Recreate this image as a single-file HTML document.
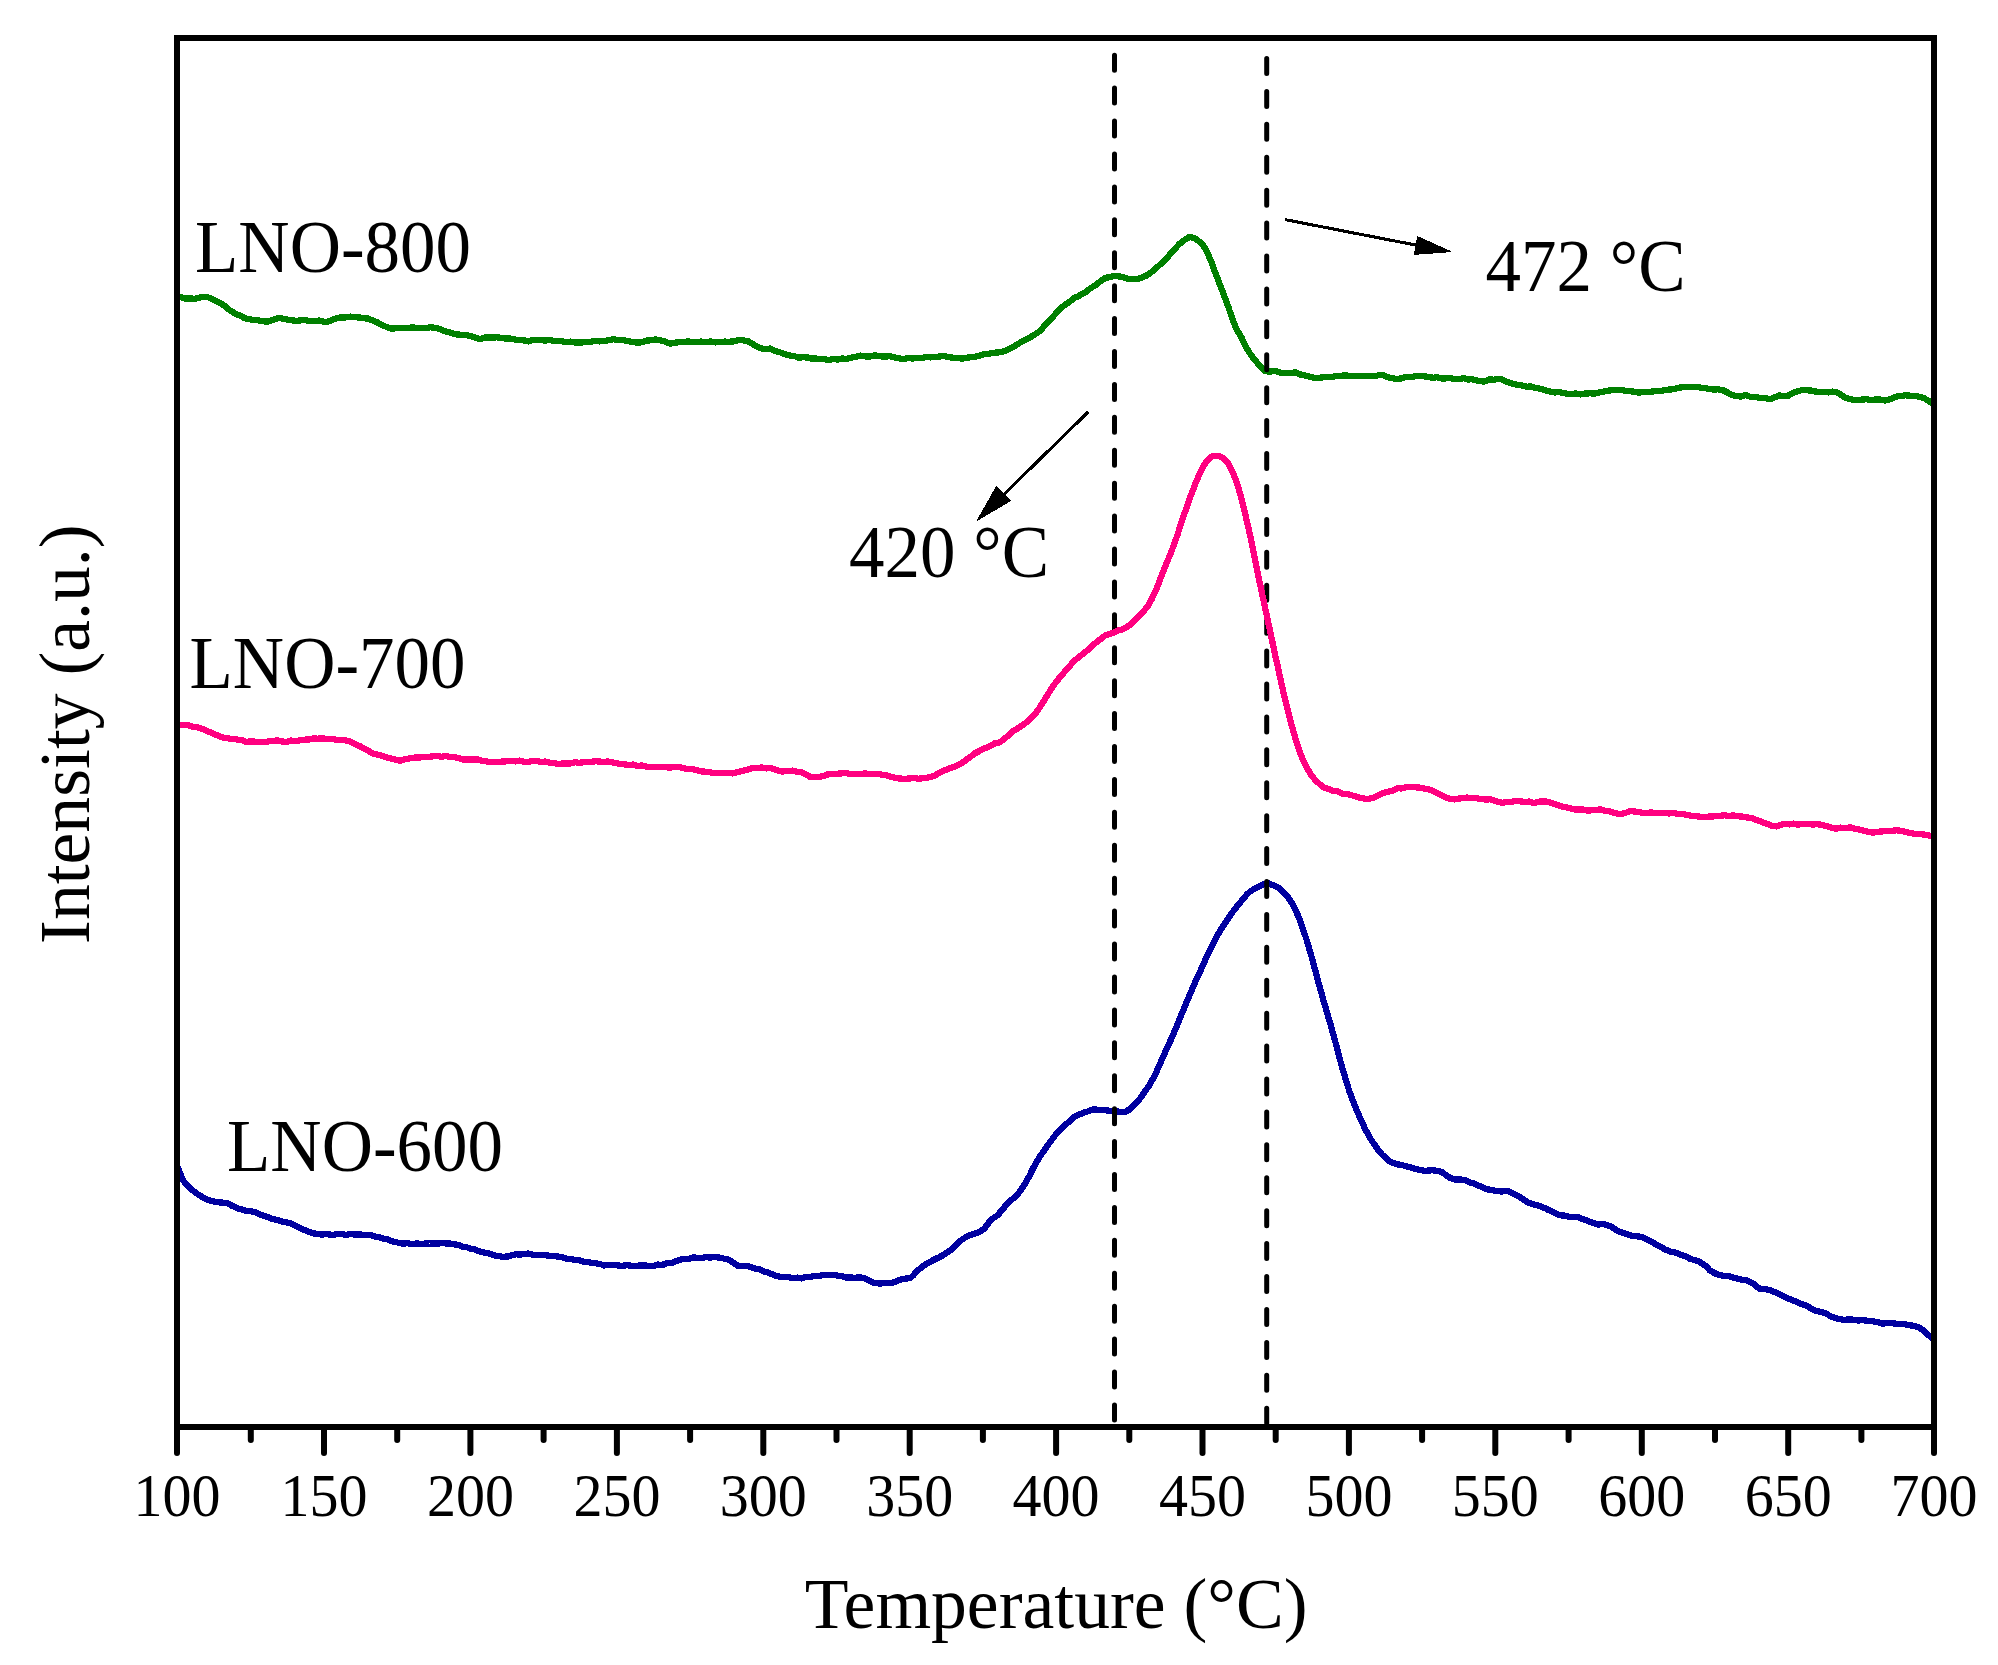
<!DOCTYPE html>
<html lang="en">
<head>
<meta charset="utf-8">
<title>TPR profiles</title>
<style>
html,body{margin:0;padding:0;background:#fff;}
body{width:1998px;height:1665px;overflow:hidden;}
svg{display:block;}
text{font-family:"Liberation Serif","Times New Roman",serif;fill:#000;}
.crv{shape-rendering:crispEdges;fill:none;stroke-width:6.3;stroke-linejoin:round;stroke-linecap:butt;}
</style>
</head>
<body>
<svg width="1998" height="1665" viewBox="0 0 1998 1665">
<rect x="0" y="0" width="1998" height="1665" fill="#fff"/>
<defs><clipPath id="plot"><rect x="177.0" y="38.0" width="1757.0" height="1389.0"/></clipPath></defs>
<g clip-path="url(#plot)">
<path class="crv" stroke="#0000a0" d="M177.0,1166.0 L178.8,1170.1 L180.1,1173.4 L181.7,1177.4 L183.8,1181.2 L186.3,1184.6 L189.2,1186.9 L192.5,1190.2 L196.5,1193.3 L200.9,1196.2 L205.0,1198.6 L210.0,1200.7 L215.0,1201.8 L219.1,1202.4 L223.5,1202.7 L227.6,1203.4 L232.3,1205.9 L237.6,1208.4 L241.6,1209.4 L246.2,1210.9 L250.9,1211.1 L255.1,1212.3 L259.3,1214.3 L262.9,1215.4 L267.6,1217.1 L271.6,1218.7 L276.4,1219.8 L281.3,1221.4 L286.1,1222.2 L290.1,1223.3 L294.9,1225.4 L298.6,1227.4 L302.6,1229.2 L307.4,1231.1 L312.5,1233.3 L317.6,1233.9 L322.2,1234.6 L326.7,1234.0 L332.7,1235.1 L336.6,1234.0 L341.1,1234.1 L346.0,1234.8 L350.9,1234.1 L355.8,1234.6 L360.2,1234.5 L365.1,1235.1 L369.8,1235.0 L374.3,1236.3 L378.6,1237.2 L382.7,1238.5 L387.2,1239.3 L391.3,1241.1 L395.4,1241.9 L400.2,1243.3 L403.9,1243.5 L408.0,1243.2 L412.3,1244.2 L416.7,1243.4 L421.0,1244.1 L425.3,1243.5 L429.5,1243.6 L433.8,1243.6 L438.1,1243.6 L442.3,1242.9 L446.4,1243.5 L450.3,1243.6 L454.6,1244.4 L458.5,1244.9 L462.4,1246.8 L466.2,1247.0 L470.3,1248.6 L474.8,1249.4 L479.5,1251.4 L484.2,1252.5 L488.7,1253.2 L492.8,1255.0 L498.4,1256.2 L503.3,1256.8 L507.8,1256.5 L511.8,1255.4 L515.6,1254.3 L520.4,1254.5 L524.2,1253.9 L528.4,1253.5 L533.1,1254.8 L537.9,1254.8 L542.9,1255.2 L547.2,1255.4 L551.8,1256.0 L556.5,1256.4 L561.2,1256.9 L565.9,1258.6 L570.4,1258.9 L574.8,1259.8 L579.2,1260.4 L583.5,1261.8 L587.7,1261.9 L591.7,1263.1 L595.4,1263.3 L600.1,1264.0 L604.0,1265.4 L608.1,1265.2 L613.0,1265.0 L617.1,1265.3 L621.8,1265.9 L626.8,1265.2 L631.7,1265.7 L636.4,1265.9 L640.5,1265.4 L645.7,1265.6 L650.2,1265.9 L654.2,1265.9 L658.0,1264.6 L662.3,1265.1 L666.0,1263.3 L670.0,1263.3 L674.4,1262.0 L679.1,1259.8 L685.0,1258.8 L688.7,1258.8 L692.9,1257.4 L697.3,1257.8 L701.8,1257.8 L706.1,1257.2 L710.0,1257.5 L715.1,1257.1 L719.7,1257.6 L723.9,1258.6 L727.6,1259.4 L733.1,1262.4 L737.6,1265.6 L742.4,1266.0 L747.6,1266.2 L751.3,1267.0 L755.3,1268.7 L760.1,1269.6 L763.5,1271.4 L767.3,1272.4 L771.4,1274.0 L775.7,1275.8 L780.1,1276.7 L784.1,1277.1 L788.6,1277.2 L793.2,1278.1 L797.7,1277.6 L801.7,1278.4 L805.1,1277.1 L810.6,1276.9 L815.2,1275.9 L819.1,1276.0 L823.5,1274.7 L828.2,1275.1 L832.7,1274.9 L837.2,1275.5 L841.8,1276.2 L846.2,1277.6 L850.2,1277.5 L854.8,1277.8 L858.9,1277.4 L862.7,1277.7 L868.0,1279.9 L872.7,1282.6 L880.2,1283.7 L884.2,1282.7 L888.7,1283.3 L892.7,1282.7 L896.6,1281.2 L900.2,1279.6 L905.1,1278.7 L910.3,1278.1 L913.5,1275.1 L916.6,1271.7 L920.3,1268.3 L923.8,1265.6 L927.6,1263.0 L931.6,1261.0 L935.3,1259.1 L939.6,1257.0 L943.5,1255.0 L947.8,1251.9 L950.7,1250.1 L953.7,1247.1 L956.9,1244.2 L959.9,1241.1 L962.8,1239.2 L967.3,1236.2 L971.5,1234.8 L975.3,1233.5 L980.1,1231.4 L984.1,1228.8 L987.3,1224.6 L990.3,1220.6 L993.8,1217.8 L997.8,1215.2 L1000.9,1211.3 L1004.4,1207.2 L1007.8,1202.8 L1011.2,1199.9 L1014.5,1197.6 L1017.9,1193.9 L1020.5,1190.7 L1023.1,1186.8 L1025.6,1182.8 L1027.9,1178.7 L1029.9,1175.1 L1031.7,1171.1 L1033.4,1167.7 L1035.4,1164.0 L1037.7,1160.2 L1040.2,1156.0 L1042.8,1152.4 L1045.4,1148.7 L1047.9,1145.0 L1050.4,1141.7 L1052.9,1138.4 L1055.4,1135.0 L1058.7,1131.6 L1062.1,1128.3 L1065.4,1124.8 L1068.6,1122.0 L1071.9,1119.1 L1075.4,1116.1 L1079.5,1114.3 L1083.8,1112.7 L1087.9,1111.4 L1092.7,1109.5 L1097.9,1109.7 L1101.7,1109.8 L1106.1,1110.4 L1110.5,1110.8 L1114.4,1110.6 L1120.1,1111.9 L1125.0,1111.8 L1129.9,1109.3 L1134.6,1104.8 L1137.8,1101.2 L1141.0,1097.3 L1144.2,1092.5 L1146.6,1089.1 L1149.0,1085.6 L1151.4,1081.5 L1153.8,1077.1 L1155.7,1073.3 L1157.6,1069.2 L1159.6,1064.6 L1161.5,1060.3 L1163.4,1055.9 L1165.3,1051.9 L1167.2,1047.8 L1169.2,1043.4 L1171.1,1039.2 L1173.0,1034.9 L1174.6,1031.1 L1176.2,1027.3 L1177.8,1023.4 L1179.4,1019.6 L1181.0,1015.5 L1182.6,1011.9 L1184.2,1008.0 L1185.8,1004.0 L1187.4,1000.0 L1189.1,996.4 L1190.7,992.4 L1192.3,988.7 L1194.2,984.3 L1196.1,980.0 L1198.1,976.1 L1200.0,971.7 L1201.9,967.5 L1203.8,963.4 L1205.7,959.0 L1207.7,954.6 L1209.6,950.5 L1211.5,946.6 L1213.9,941.8 L1216.3,937.5 L1218.7,933.1 L1221.1,929.3 L1223.5,925.5 L1225.9,921.9 L1228.3,918.3 L1230.7,914.7 L1233.9,910.2 L1237.1,906.3 L1240.3,902.4 L1243.5,898.3 L1246.7,894.7 L1249.9,891.7 L1254.7,888.5 L1259.5,886.3 L1264.3,883.9 L1269.1,883.6 L1273.9,885.5 L1278.7,888.0 L1282.0,890.7 L1285.2,894.1 L1288.3,897.7 L1291.0,901.6 L1293.5,905.9 L1296.0,910.9 L1297.5,914.5 L1299.1,918.2 L1300.6,922.4 L1302.2,926.7 L1303.7,931.2 L1305.0,934.9 L1306.3,938.9 L1307.6,943.0 L1308.8,947.2 L1310.1,951.7 L1311.4,956.1 L1312.5,960.0 L1313.6,964.1 L1314.7,968.3 L1315.8,972.5 L1316.9,976.8 L1318.0,980.9 L1319.1,984.9 L1320.4,989.4 L1321.7,994.1 L1322.9,998.6 L1324.2,1002.8 L1325.5,1007.4 L1326.8,1011.9 L1328.1,1016.4 L1329.4,1020.6 L1330.7,1025.0 L1331.9,1029.7 L1333.2,1034.0 L1334.5,1038.6 L1335.6,1042.8 L1336.7,1046.9 L1337.8,1051.2 L1338.9,1055.3 L1340.0,1059.7 L1341.1,1063.6 L1342.2,1067.7 L1343.5,1072.0 L1344.8,1076.4 L1346.1,1080.6 L1347.3,1084.8 L1348.6,1088.8 L1349.9,1092.7 L1351.4,1096.8 L1352.9,1100.7 L1354.5,1104.7 L1356.0,1108.3 L1357.5,1111.9 L1359.4,1116.3 L1361.3,1120.8 L1363.3,1125.0 L1365.2,1129.0 L1367.7,1133.7 L1370.2,1138.2 L1372.9,1142.3 L1376.0,1146.8 L1379.2,1151.4 L1382.5,1155.0 L1385.7,1157.9 L1388.9,1160.8 L1392.1,1162.5 L1396.8,1164.3 L1401.7,1165.0 L1407.4,1166.6 L1413.3,1168.2 L1419.3,1169.8 L1424.8,1170.9 L1432.5,1170.2 L1437.3,1171.0 L1442.1,1172.0 L1446.2,1175.3 L1450.4,1178.1 L1455.3,1179.5 L1460.8,1179.5 L1464.9,1180.0 L1469.4,1182.4 L1473.8,1183.4 L1478.3,1185.5 L1482.7,1187.3 L1486.9,1189.3 L1492.3,1190.0 L1497.3,1191.3 L1502.3,1191.4 L1507.7,1191.0 L1512.0,1192.8 L1516.7,1195.2 L1520.7,1197.6 L1524.6,1200.2 L1528.5,1202.8 L1532.3,1204.0 L1536.6,1205.0 L1541.5,1206.7 L1544.8,1208.1 L1548.4,1210.0 L1552.2,1211.6 L1556.0,1213.3 L1559.7,1215.3 L1564.3,1215.5 L1569.0,1216.9 L1573.5,1216.7 L1577.9,1217.1 L1582.1,1219.1 L1586.1,1220.0 L1589.9,1222.1 L1593.6,1222.9 L1598.2,1224.5 L1602.6,1224.1 L1606.6,1224.9 L1612.0,1227.1 L1617.0,1230.6 L1621.7,1232.5 L1627.4,1234.4 L1631.6,1235.7 L1636.5,1236.1 L1641.4,1237.1 L1645.6,1238.6 L1649.6,1240.6 L1652.8,1242.4 L1656.0,1244.7 L1661.2,1247.3 L1666.4,1250.1 L1671.5,1251.9 L1676.9,1252.8 L1681.0,1255.0 L1685.5,1256.1 L1689.9,1258.8 L1694.3,1260.0 L1698.8,1261.5 L1702.9,1263.8 L1706.4,1266.6 L1709.5,1270.1 L1713.3,1272.4 L1716.7,1274.1 L1720.5,1275.0 L1724.5,1276.1 L1728.9,1276.1 L1732.9,1277.5 L1737.3,1278.7 L1741.9,1279.6 L1746.1,1280.3 L1749.7,1282.0 L1753.9,1284.1 L1757.0,1286.7 L1760.1,1289.2 L1765.2,1289.2 L1770.6,1290.2 L1774.7,1292.1 L1779.2,1294.2 L1783.6,1296.2 L1788.0,1298.5 L1792.5,1300.1 L1796.6,1302.0 L1802.1,1304.2 L1807.0,1306.0 L1810.9,1308.3 L1814.8,1310.4 L1819.8,1311.8 L1825.2,1313.0 L1830.2,1316.0 L1835.6,1318.2 L1839.4,1319.0 L1843.4,1319.7 L1848.6,1319.6 L1852.8,1319.6 L1857.9,1320.5 L1863.1,1320.1 L1868.1,1321.0 L1872.1,1321.2 L1877.8,1322.2 L1882.5,1323.8 L1887.5,1322.9 L1893.1,1323.3 L1898.1,1324.0 L1903.6,1324.1 L1908.5,1324.9 L1913.9,1326.0 L1918.9,1327.5 L1922.5,1329.9 L1925.4,1332.5 L1930.6,1336.8 L1934.0,1339.9"/>
<path class="crv" stroke="#008000" d="M177.0,296.3 L180.0,296.9 L184.9,298.5 L190.0,298.6 L195.0,298.7 L202.5,296.8 L207.5,297.1 L210.9,298.5 L215.0,300.3 L220.0,302.9 L225.0,306.1 L228.6,309.4 L232.6,312.0 L236.4,314.3 L240.7,315.9 L245.0,318.4 L249.3,319.0 L253.6,320.0 L257.6,320.2 L262.7,321.2 L267.6,321.7 L273.0,319.9 L278.9,318.0 L283.2,318.8 L287.7,319.7 L292.6,320.4 L296.7,320.8 L301.1,320.3 L305.5,320.3 L310.0,320.9 L314.6,321.2 L319.5,320.5 L324.0,321.7 L327.7,321.7 L335.2,318.7 L339.6,317.5 L344.7,317.5 L350.2,316.6 L354.6,317.3 L359.3,317.4 L363.8,318.3 L367.7,318.5 L373.2,320.5 L377.7,322.6 L382.4,325.4 L387.7,327.3 L391.9,328.8 L396.6,328.0 L402.7,328.0 L406.8,327.9 L411.6,327.5 L416.8,327.8 L421.9,328.1 L426.6,327.9 L430.3,327.2 L436.1,327.9 L440.3,329.4 L444.9,331.2 L450.1,332.5 L455.3,334.3 L460.5,334.7 L465.7,335.1 L470.3,335.9 L475.9,337.9 L480.3,339.1 L485.3,337.3 L488.4,337.5 L492.5,337.6 L496.9,337.3 L501.4,337.9 L505.3,338.5 L510.3,338.6 L514.8,339.5 L520.4,340.2 L524.1,340.4 L528.2,341.4 L532.6,340.0 L537.1,340.1 L541.4,340.1 L545.4,340.6 L549.8,340.0 L554.0,340.9 L558.0,340.7 L561.8,341.1 L565.4,342.0 L570.8,341.6 L575.6,342.6 L580.4,342.5 L585.0,342.2 L589.7,342.1 L595.4,340.7 L599.2,341.4 L603.6,341.0 L608.3,340.3 L612.9,339.2 L617.1,339.9 L620.5,339.7 L626.6,340.9 L630.5,341.6 L638.0,342.7 L641.9,342.2 L646.7,340.6 L651.5,340.2 L655.5,339.5 L660.6,340.5 L664.2,341.0 L670.0,343.7 L673.8,342.9 L678.5,342.2 L685.0,341.7 L688.5,341.5 L692.6,342.1 L697.1,341.8 L701.7,341.6 L706.4,342.0 L710.8,341.4 L715.0,342.4 L719.7,342.2 L724.3,341.6 L728.9,341.8 L733.1,341.4 L736.9,340.5 L740.0,340.0 L747.6,341.0 L751.5,343.2 L755.9,345.9 L760.0,348.0 L764.8,349.2 L770.0,348.6 L774.8,350.7 L780.2,352.4 L785.0,354.2 L789.7,355.5 L795.0,356.3 L798.5,357.7 L802.8,357.3 L807.2,357.4 L811.5,358.6 L815.0,358.6 L819.7,358.8 L825.0,359.3 L828.5,360.2 L832.9,359.1 L837.6,359.5 L842.4,358.4 L846.7,359.1 L850.0,357.9 L857.7,356.4 L860.7,355.6 L864.6,356.3 L869.1,356.7 L873.8,355.5 L878.6,355.8 L883.1,356.6 L887.0,356.4 L890.2,356.2 L895.4,357.7 L900.2,358.5 L903.6,359.1 L907.7,358.1 L912.4,358.5 L917.2,358.1 L922.0,357.9 L926.5,357.1 L930.3,357.4 L935.7,357.1 L940.3,356.4 L944.2,355.7 L947.8,357.0 L953.0,357.7 L957.8,358.0 L962.6,358.6 L968.0,357.5 L972.8,357.1 L977.5,356.3 L982.8,354.5 L986.3,353.9 L990.4,353.5 L994.9,352.7 L999.1,352.3 L1002.8,351.7 L1007.6,349.8 L1011.7,347.5 L1015.4,345.6 L1020.4,342.4 L1025.4,339.8 L1029.5,337.8 L1033.8,335.0 L1037.9,332.6 L1041.3,329.5 L1044.5,325.7 L1047.9,321.9 L1050.9,319.1 L1054.2,315.3 L1057.4,312.0 L1060.4,308.5 L1063.7,305.8 L1066.8,303.6 L1070.4,301.1 L1073.9,298.2 L1077.9,296.4 L1081.9,294.1 L1085.4,292.3 L1089.3,289.2 L1092.7,286.9 L1095.4,285.2 L1100.0,281.6 L1105.4,277.8 L1109.6,277.2 L1114.0,275.9 L1121.6,276.8 L1126.6,278.5 L1131.4,279.2 L1137.8,278.8 L1142.6,277.3 L1147.6,275.0 L1152.0,271.6 L1156.2,268.2 L1160.5,264.1 L1164.9,260.0 L1167.8,257.0 L1170.6,253.6 L1173.5,250.5 L1176.4,247.2 L1179.4,244.0 L1182.2,241.7 L1186.2,238.8 L1189.7,236.9 L1195.1,238.5 L1198.8,241.2 L1202.7,244.7 L1205.0,248.4 L1207.2,252.6 L1209.2,256.8 L1211.1,261.2 L1212.8,266.0 L1214.6,270.8 L1216.4,275.6 L1218.2,280.2 L1220.0,284.8 L1221.8,289.6 L1223.6,294.3 L1225.4,298.8 L1226.8,302.6 L1228.2,306.5 L1229.5,310.5 L1230.8,314.1 L1232.2,318.1 L1233.5,322.0 L1235.1,325.8 L1237.1,329.9 L1239.4,334.1 L1241.6,337.6 L1243.4,341.4 L1245.2,345.1 L1247.0,348.6 L1250.2,353.8 L1253.5,358.4 L1256.8,362.3 L1260.0,365.8 L1265.4,371.2 L1269.9,371.6 L1275.1,370.9 L1280.8,372.9 L1285.9,373.2 L1291.4,372.8 L1295.4,372.4 L1300.0,374.4 L1304.7,375.3 L1310.2,377.0 L1314.7,377.8 L1319.7,377.7 L1325.2,377.1 L1328.8,376.9 L1332.6,376.7 L1336.6,375.9 L1340.8,375.8 L1345.2,375.4 L1349.2,375.8 L1353.6,375.8 L1358.2,376.2 L1362.6,376.0 L1366.7,375.7 L1370.2,376.2 L1375.4,376.2 L1379.3,374.9 L1382.8,375.0 L1386.9,377.0 L1392.8,378.3 L1396.4,378.9 L1400.8,378.5 L1405.6,377.2 L1410.7,377.3 L1415.7,376.2 L1420.3,375.9 L1424.6,376.4 L1428.9,377.0 L1433.1,377.8 L1437.2,377.2 L1441.3,378.4 L1445.3,378.4 L1450.1,378.0 L1455.0,379.3 L1459.6,378.9 L1464.0,378.2 L1467.8,379.4 L1472.6,379.3 L1476.2,380.4 L1480.4,381.2 L1484.5,381.5 L1489.2,379.5 L1493.8,379.7 L1497.9,379.0 L1502.0,379.4 L1505.5,381.5 L1510.4,383.1 L1513.9,383.9 L1518.0,384.9 L1522.5,385.6 L1527.0,386.7 L1531.4,386.5 L1535.4,388.0 L1540.6,388.7 L1545.3,390.2 L1549.9,391.5 L1554.7,392.5 L1558.8,392.1 L1563.1,392.8 L1567.4,393.8 L1571.6,394.1 L1575.7,393.4 L1580.6,394.4 L1585.5,393.5 L1590.2,393.3 L1594.7,393.5 L1599.0,392.6 L1603.1,391.7 L1607.2,390.8 L1611.5,390.3 L1616.2,389.8 L1621.2,389.9 L1626.1,391.1 L1630.4,391.2 L1634.8,391.9 L1638.4,392.7 L1643.0,392.1 L1646.6,392.0 L1650.5,391.7 L1654.7,391.3 L1659.3,391.3 L1664.0,390.2 L1668.3,389.6 L1673.1,389.3 L1678.0,387.9 L1682.8,387.1 L1687.4,387.3 L1691.4,387.2 L1696.4,386.7 L1700.6,387.7 L1704.4,387.8 L1708.2,388.9 L1713.3,389.5 L1718.2,389.3 L1722.9,390.2 L1727.3,392.4 L1731.5,394.7 L1735.5,395.9 L1740.6,396.5 L1746.0,395.1 L1750.7,397.0 L1755.8,397.1 L1760.7,397.9 L1765.3,398.1 L1769.6,399.2 L1773.3,398.0 L1779.6,395.4 L1783.3,396.2 L1788.1,395.8 L1792.5,393.2 L1797.5,391.3 L1802.8,389.9 L1806.9,390.2 L1811.1,390.6 L1815.4,391.6 L1819.6,391.8 L1824.0,391.9 L1828.5,392.4 L1832.8,391.6 L1836.4,392.2 L1841.2,394.9 L1844.8,397.5 L1852.2,399.7 L1859.5,400.1 L1862.8,399.4 L1867.1,399.3 L1871.8,400.1 L1876.6,399.3 L1881.1,399.7 L1884.8,400.5 L1889.9,399.4 L1893.7,397.8 L1897.4,396.2 L1901.5,396.0 L1905.6,395.3 L1910.0,395.7 L1915.1,396.0 L1920.4,397.0 L1924.7,398.5 L1930.6,402.1 L1934.0,404.8"/>
</g>
<g stroke="#000" stroke-width="5" stroke-linecap="round" stroke-dasharray="15 17.92" fill="none">
<line x1="1114.5" y1="55.2" x2="1114.5" y2="1420"/>
<line x1="1266.7" y1="58.5" x2="1266.7" y2="1424"/>
</g>
<g clip-path="url(#plot)">
<path class="crv" stroke="#ff0080" d="M177.0,725.3 L178.8,724.8 L182.5,725.1 L187.6,725.2 L193.0,726.7 L197.5,727.2 L202.9,729.0 L207.5,731.4 L211.3,732.6 L215.4,734.5 L220.0,736.4 L224.2,737.8 L228.8,738.5 L233.4,739.0 L237.6,739.6 L241.8,740.0 L245.5,741.9 L250.0,741.4 L253.4,741.5 L257.2,742.2 L261.3,742.1 L265.6,741.9 L270.0,741.2 L273.9,740.7 L278.1,740.5 L282.3,741.6 L286.7,741.8 L290.9,740.6 L295.0,741.3 L299.7,740.3 L304.2,739.7 L308.7,739.5 L313.1,738.4 L317.6,738.7 L322.2,738.3 L327.0,739.1 L331.7,738.9 L336.2,739.7 L340.2,740.1 L345.9,740.4 L350.7,741.8 L355.2,744.2 L359.6,746.0 L363.6,748.2 L367.7,750.4 L371.6,753.0 L375.5,754.2 L380.2,755.1 L383.8,756.6 L387.9,757.7 L392.2,758.7 L396.4,760.1 L400.2,760.6 L405.5,759.2 L410.2,758.2 L415.2,757.5 L419.4,757.6 L423.8,756.9 L428.3,756.8 L432.8,756.4 L437.1,755.9 L441.4,756.8 L445.8,756.0 L450.3,757.3 L454.3,757.1 L458.7,758.2 L463.1,759.5 L467.1,759.6 L470.3,759.4 L477.8,759.5 L481.4,760.7 L485.6,761.3 L490.3,762.3 L494.0,761.9 L497.8,762.2 L502.2,761.5 L507.8,761.3 L511.3,760.9 L515.2,761.4 L519.6,760.6 L524.1,761.7 L528.6,761.7 L533.0,761.1 L536.9,761.1 L540.4,761.8 L545.8,761.6 L550.1,763.0 L553.9,763.1 L557.9,764.1 L561.9,763.5 L565.7,763.5 L570.0,763.5 L575.4,762.0 L578.8,762.9 L582.7,762.4 L586.9,762.0 L591.2,761.8 L595.7,761.3 L600.0,761.5 L604.2,762.1 L608.0,761.4 L612.6,762.5 L616.8,763.3 L620.9,763.9 L624.8,764.4 L628.8,764.9 L633.0,764.6 L637.4,766.0 L641.9,765.4 L646.5,766.7 L651.1,767.1 L655.6,767.1 L660.0,767.2 L664.3,767.0 L668.7,767.5 L672.9,767.3 L677.1,767.2 L681.1,767.4 L685.0,768.6 L689.2,769.3 L693.0,769.3 L696.7,770.1 L700.6,771.3 L705.0,771.7 L709.2,772.2 L713.9,773.1 L718.8,773.2 L723.7,773.3 L728.4,773.0 L732.6,773.4 L737.1,772.3 L741.3,771.3 L745.1,770.1 L748.9,769.4 L752.6,767.9 L757.3,768.1 L761.8,767.4 L766.1,768.4 L770.1,768.1 L774.5,769.2 L778.4,770.8 L782.6,771.6 L787.5,770.9 L792.7,770.6 L797.6,772.0 L802.1,772.4 L806.3,774.7 L810.2,776.9 L815.2,776.7 L820.2,776.8 L823.6,776.0 L827.3,774.5 L832.7,773.9 L836.5,773.8 L840.9,773.4 L845.8,773.1 L850.8,774.2 L855.7,774.3 L860.2,774.0 L865.2,773.4 L870.0,774.0 L874.7,774.1 L878.9,774.0 L882.7,774.8 L887.5,775.5 L891.2,777.1 L895.2,777.7 L899.9,778.6 L904.8,778.8 L910.3,778.5 L914.1,777.8 L918.3,778.8 L922.6,778.3 L926.7,777.7 L930.3,777.1 L934.8,775.8 L938.5,773.0 L942.8,771.0 L946.9,769.5 L951.4,767.7 L956.0,766.3 L960.3,763.9 L964.2,761.4 L968.0,758.4 L971.6,756.0 L975.3,753.1 L979.1,751.2 L982.9,749.0 L986.7,747.7 L990.3,746.0 L994.8,743.3 L999.0,742.5 L1002.9,740.2 L1006.4,737.1 L1009.7,734.2 L1012.9,731.1 L1017.9,728.3 L1022.9,724.9 L1026.2,722.5 L1029.6,719.6 L1032.9,716.5 L1035.4,713.5 L1037.9,710.2 L1040.4,706.3 L1042.9,702.6 L1045.4,698.4 L1047.9,694.3 L1050.4,690.4 L1052.9,686.1 L1055.3,683.1 L1057.7,680.0 L1060.2,676.8 L1062.9,674.0 L1065.8,670.3 L1069.0,667.0 L1072.2,663.1 L1075.4,659.9 L1078.5,657.5 L1081.6,654.9 L1084.8,652.3 L1087.9,650.0 L1091.0,647.0 L1094.2,644.2 L1097.3,641.5 L1100.5,639.1 L1104.7,635.8 L1108.9,634.2 L1113.2,632.7 L1117.6,630.6 L1122.1,629.6 L1126.4,627.1 L1129.5,625.4 L1132.6,622.4 L1135.6,619.7 L1138.4,616.8 L1141.9,613.3 L1145.1,609.4 L1148.0,605.8 L1149.9,602.4 L1151.7,599.2 L1153.4,595.6 L1155.3,591.3 L1156.8,587.9 L1158.3,584.1 L1160.0,579.7 L1161.6,575.6 L1163.3,571.4 L1164.9,567.4 L1166.5,563.4 L1168.1,559.5 L1169.7,555.7 L1171.3,551.7 L1172.9,547.5 L1174.5,543.2 L1175.9,539.4 L1177.2,535.5 L1178.6,531.2 L1180.0,526.8 L1181.4,522.7 L1182.7,518.5 L1184.1,514.5 L1185.5,510.6 L1186.8,506.7 L1188.2,502.7 L1189.6,498.9 L1191.0,495.2 L1192.3,491.6 L1193.7,488.1 L1195.6,483.2 L1197.6,478.5 L1199.5,473.9 L1201.5,470.0 L1203.3,466.3 L1206.2,461.8 L1208.9,459.1 L1211.7,456.6 L1215.9,455.9 L1220.1,456.4 L1224.3,458.9 L1228.5,463.8 L1230.2,467.1 L1231.9,470.3 L1233.6,474.6 L1235.3,478.8 L1236.9,483.1 L1238.2,487.0 L1239.4,491.4 L1240.6,495.7 L1241.7,500.2 L1242.9,504.9 L1244.1,509.6 L1245.0,513.3 L1245.9,517.1 L1246.8,520.9 L1247.7,524.8 L1248.6,528.6 L1249.5,532.6 L1250.4,536.7 L1251.3,541.0 L1252.1,544.6 L1252.9,548.6 L1253.7,552.7 L1254.5,556.7 L1255.3,560.8 L1256.1,564.9 L1256.9,568.9 L1257.7,573.1 L1258.5,576.8 L1259.4,581.2 L1260.3,585.4 L1261.2,589.7 L1262.1,593.8 L1263.0,598.1 L1263.9,602.2 L1264.8,606.4 L1265.7,610.5 L1266.6,614.6 L1267.5,618.9 L1268.4,623.2 L1269.3,627.4 L1270.2,631.5 L1271.1,635.8 L1272.0,640.1 L1272.9,644.3 L1273.8,648.5 L1274.7,652.7 L1275.6,657.0 L1276.5,661.1 L1277.5,665.3 L1278.4,669.6 L1279.3,673.6 L1280.2,677.8 L1281.1,681.9 L1282.0,685.9 L1282.9,689.9 L1283.8,693.9 L1284.7,697.7 L1285.6,701.7 L1286.5,705.4 L1287.4,709.0 L1288.6,713.7 L1289.8,718.3 L1291.0,722.9 L1292.2,727.1 L1293.4,731.3 L1294.6,735.6 L1296.0,740.2 L1297.4,744.7 L1298.7,749.0 L1300.2,753.0 L1301.8,757.0 L1303.5,761.0 L1305.4,764.7 L1307.3,768.5 L1309.3,772.0 L1311.4,775.2 L1314.2,778.8 L1317.1,781.7 L1320.2,784.6 L1323.4,787.4 L1328.0,788.9 L1332.9,790.7 L1337.8,791.4 L1342.8,793.7 L1347.8,794.1 L1352.2,795.4 L1357.1,796.9 L1361.0,798.1 L1367.8,799.0 L1374.0,797.4 L1381.0,794.2 L1384.4,792.6 L1388.5,791.7 L1393.0,790.4 L1397.4,788.3 L1401.7,788.4 L1406.2,787.1 L1410.6,787.3 L1414.8,787.3 L1419.6,787.6 L1424.1,788.5 L1429.3,789.5 L1433.1,790.8 L1437.2,793.3 L1441.5,795.4 L1445.7,797.4 L1449.7,798.8 L1454.1,799.4 L1458.2,798.7 L1462.4,798.1 L1467.1,797.6 L1471.6,798.1 L1476.5,798.1 L1481.6,799.2 L1486.3,799.5 L1490.3,799.3 L1496.5,801.3 L1501.9,802.9 L1505.9,802.1 L1510.4,801.9 L1515.0,801.2 L1519.3,801.2 L1524.5,802.0 L1529.3,801.6 L1533.8,803.1 L1539.5,801.6 L1545.5,801.4 L1549.4,802.1 L1553.7,804.0 L1558.2,805.2 L1562.9,807.0 L1566.8,807.4 L1571.0,808.5 L1575.1,809.5 L1579.3,809.4 L1583.2,809.6 L1587.7,810.6 L1591.9,810.3 L1596.1,809.8 L1600.6,809.5 L1604.6,810.6 L1609.0,811.0 L1613.4,812.7 L1617.4,813.6 L1620.9,814.2 L1626.3,812.6 L1631.1,810.7 L1634.7,811.6 L1638.6,811.9 L1642.9,813.0 L1647.1,812.9 L1651.2,812.5 L1655.3,812.9 L1659.7,812.8 L1664.5,813.2 L1669.0,813.4 L1673.9,812.8 L1679.0,814.2 L1683.7,814.1 L1687.7,815.1 L1693.1,816.0 L1699.3,816.6 L1702.6,816.8 L1706.5,816.7 L1710.8,816.6 L1715.4,816.2 L1719.9,815.9 L1724.3,815.3 L1728.3,815.8 L1733.4,815.5 L1738.2,816.3 L1742.8,816.7 L1747.2,817.5 L1751.6,817.9 L1755.9,819.7 L1760.1,821.1 L1764.1,823.0 L1768.1,824.2 L1771.9,825.8 L1776.1,826.4 L1779.9,825.1 L1784.0,824.1 L1789.3,824.4 L1793.3,823.6 L1797.9,824.8 L1803.0,823.7 L1808.2,824.2 L1813.1,824.5 L1817.6,824.2 L1821.2,824.8 L1827.9,826.3 L1832.8,828.2 L1836.6,828.7 L1840.8,827.6 L1845.3,828.1 L1850.2,827.4 L1854.5,828.7 L1859.1,829.6 L1863.9,830.6 L1868.8,832.2 L1873.5,832.6 L1878.2,831.7 L1883.1,831.3 L1887.8,831.2 L1892.4,830.8 L1896.7,830.2 L1901.5,831.0 L1905.8,832.0 L1910.0,832.9 L1914.1,833.7 L1918.5,833.7 L1922.9,834.4 L1927.0,835.1 L1930.1,835.8 L1934.0,835.3"/>
</g>
<rect x="177.0" y="38.0" width="1757.0" height="1389.0" fill="none" stroke="#000" stroke-width="6"/>
<g stroke="#000" stroke-width="6" stroke-linecap="round">
<line x1="177.0" y1="1427.0" x2="177.0" y2="1453"/>
<line x1="250.8" y1="1427.0" x2="250.8" y2="1440"/>
<line x1="324.0" y1="1427.0" x2="324.0" y2="1453"/>
<line x1="397.2" y1="1427.0" x2="397.2" y2="1440"/>
<line x1="470.4" y1="1427.0" x2="470.4" y2="1453"/>
<line x1="543.6" y1="1427.0" x2="543.6" y2="1440"/>
<line x1="616.9" y1="1427.0" x2="616.9" y2="1453"/>
<line x1="690.1" y1="1427.0" x2="690.1" y2="1440"/>
<line x1="763.3" y1="1427.0" x2="763.3" y2="1453"/>
<line x1="836.5" y1="1427.0" x2="836.5" y2="1440"/>
<line x1="909.7" y1="1427.0" x2="909.7" y2="1453"/>
<line x1="982.9" y1="1427.0" x2="982.9" y2="1440"/>
<line x1="1056.1" y1="1427.0" x2="1056.1" y2="1453"/>
<line x1="1129.3" y1="1427.0" x2="1129.3" y2="1440"/>
<line x1="1202.5" y1="1427.0" x2="1202.5" y2="1453"/>
<line x1="1275.7" y1="1427.0" x2="1275.7" y2="1440"/>
<line x1="1348.9" y1="1427.0" x2="1348.9" y2="1453"/>
<line x1="1422.1" y1="1427.0" x2="1422.1" y2="1440"/>
<line x1="1495.3" y1="1427.0" x2="1495.3" y2="1453"/>
<line x1="1568.6" y1="1427.0" x2="1568.6" y2="1440"/>
<line x1="1641.8" y1="1427.0" x2="1641.8" y2="1453"/>
<line x1="1715.0" y1="1427.0" x2="1715.0" y2="1440"/>
<line x1="1788.2" y1="1427.0" x2="1788.2" y2="1453"/>
<line x1="1861.4" y1="1427.0" x2="1861.4" y2="1440"/>
<line x1="1934.0" y1="1427.0" x2="1934.0" y2="1453"/>
</g>
<text transform="translate(177.0,1515.7) scale(1,1.04)" font-size="58" text-anchor="middle">100</text>
<text transform="translate(324.0,1515.7) scale(1,1.04)" font-size="58" text-anchor="middle">150</text>
<text transform="translate(470.4,1515.7) scale(1,1.04)" font-size="58" text-anchor="middle">200</text>
<text transform="translate(616.9,1515.7) scale(1,1.04)" font-size="58" text-anchor="middle">250</text>
<text transform="translate(763.3,1515.7) scale(1,1.04)" font-size="58" text-anchor="middle">300</text>
<text transform="translate(909.7,1515.7) scale(1,1.04)" font-size="58" text-anchor="middle">350</text>
<text transform="translate(1056.1,1515.7) scale(1,1.04)" font-size="58" text-anchor="middle">400</text>
<text transform="translate(1202.5,1515.7) scale(1,1.04)" font-size="58" text-anchor="middle">450</text>
<text transform="translate(1348.9,1515.7) scale(1,1.04)" font-size="58" text-anchor="middle">500</text>
<text transform="translate(1495.3,1515.7) scale(1,1.04)" font-size="58" text-anchor="middle">550</text>
<text transform="translate(1641.8,1515.7) scale(1,1.04)" font-size="58" text-anchor="middle">600</text>
<text transform="translate(1788.2,1515.7) scale(1,1.04)" font-size="58" text-anchor="middle">650</text>
<text transform="translate(1934.0,1515.7) scale(1,1.04)" font-size="58" text-anchor="middle">700</text>
<text transform="translate(1056.2,1627.8) scale(1,1.0)" font-size="71.6" text-anchor="middle">Temperature (°C)</text>
<text transform="translate(89.2,734.2) rotate(-90) scale(1,1.0)" font-size="71.6" text-anchor="middle">Intensity (a.u.)</text>
<text transform="translate(195,271.5) scale(1,1.035)" font-size="71" text-anchor="start">LNO-800</text>
<text transform="translate(189.5,688.1) scale(1,1.035)" font-size="71" text-anchor="start">LNO-700</text>
<text transform="translate(227,1171.1) scale(1,1.035)" font-size="71" text-anchor="start">LNO-600</text>
<text transform="translate(1485.5,291.4) scale(1,1.035)" font-size="71" text-anchor="start">472 °C</text>
<text transform="translate(849,577) scale(1,1.035)" font-size="71" text-anchor="start">420 °C</text>
<g stroke="#000" stroke-width="3.1" fill="#000" shape-rendering="crispEdges">
<line x1="1285" y1="219.6" x2="1420" y2="245.9"/>
<polygon points="1450.6,251.6 1417.7,236.8 1414.6,254.2" stroke-width="1.2" stroke-linejoin="round"/>
<line x1="1088.3" y1="411.8" x2="1002" y2="496.2"/>
<polygon points="977.6,520 996.6,486.5 1010.4,500.6" stroke-width="1.2" stroke-linejoin="round"/>
</g>
</svg>
</body>
</html>
